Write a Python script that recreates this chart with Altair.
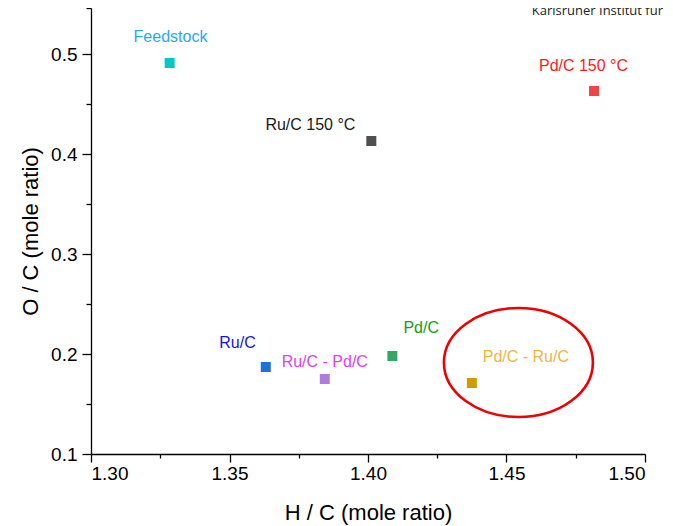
import altair as alt
import pandas as pd

# ---- data ----
names = ["Feedstock", "Pd/C 150 °C", "Ru/C 150 °C", "Ru/C", "Ru/C - Pd/C", "Pd/C", "Pd/C - Ru/C"]
hc = [1.3284, 1.4816, 1.4012, 1.3631, 1.3844, 1.4088, 1.4375]
oc = [0.491, 0.463, 0.413, 0.187, 0.175, 0.198, 0.171]
label_hc = [1.3287, 1.4778, 1.3792, 1.3529, 1.3844, 1.4192, 1.4570]
label_oc = [0.517, 0.488, 0.429, 0.211, 0.192, 0.226, 0.197]
marker_colors = ["#00c8c8", "#f04444", "#505050", "#1f6fdc", "#b07ae0", "#33a864", "#d09a00"]
label_colors = ["#2aa8f2", "#ff1a1a", "#1a1a1a", "#1414e6", "#e040f5", "#14a014", "#f0b444"]

x_ticks = [1.30, 1.35, 1.40, 1.45, 1.50]
x_minor = [1.325, 1.375, 1.425, 1.475]
y_ticks = [0.1, 0.2, 0.3, 0.4, 0.5]
y_minor = [0.15, 0.25, 0.35, 0.45, 0.546]

highlight_hc = [1.4543]
highlight_oc = [0.1915]

df = pd.DataFrame({
    "name": names, "hc": hc, "oc": oc,
    "lhc": label_hc, "loc": label_oc,
    "mcol": marker_colors, "lcol": label_colors,
})
ell = pd.DataFrame({"hc": highlight_hc, "oc": highlight_oc})

FONT = "Liberation Sans"
xscale = alt.Scale(domain=[1.30, 1.50], nice=False, zero=False)
yscale = alt.Scale(domain=[0.1, 0.546], nice=False, zero=False)

main_x_axis = alt.Axis(values=x_ticks, format=".2f", orient="bottom", grid=False,
                       domainColor="black", domainWidth=1.3, tickColor="black", tickWidth=1.3,
                       tickSize=8, labelFont=FONT, labelFontSize=19, labelColor="black",
                       labelPadding=2, titleFont=FONT, titleFontSize=22,
                       titleFontWeight="normal", titleColor="black", titlePadding=19)
main_y_axis = alt.Axis(values=y_ticks, format=".1f", orient="left", grid=False,
                       domainColor="black", domainWidth=1.3, tickColor="black", tickWidth=1.3,
                       tickSize=9, labelFont=FONT, labelFontSize=19, labelColor="black",
                       labelPadding=5, titleFont=FONT, titleFontSize=22,
                       titleFontWeight="normal", titleColor="black", titlePadding=8)

points = alt.Chart(df).mark_point(shape="square", filled=True, size=100, opacity=1).encode(
    x=alt.X("hc:Q", scale=xscale, axis=main_x_axis, title="H / C (mole ratio)"),
    y=alt.Y("oc:Q", scale=yscale, axis=main_y_axis, title="O / C (mole ratio)"),
    color=alt.Color("mcol:N", scale=None),
)

minor_axes = alt.Chart(df).mark_point(opacity=0).encode(
    x=alt.X("hc:Q", scale=xscale, title=None,
            axis=alt.Axis(values=x_minor, orient="bottom", labels=False, domain=False,
                          grid=False, tickColor="black", tickWidth=1.3, tickSize=4)),
    y=alt.Y("oc:Q", scale=yscale, title=None,
            axis=alt.Axis(values=y_minor, orient="left", labels=False, domain=False,
                          grid=False, tickColor="black", tickWidth=1.3, tickSize=5)),
)

labels = alt.Chart(df).mark_text(font=FONT, fontSize=16, align="center", baseline="middle").encode(
    x=alt.X("lhc:Q", scale=xscale, axis=None),
    y=alt.Y("loc:Q", scale=yscale, axis=None),
    text="name:N",
    color=alt.Color("lcol:N", scale=None),
)

ellipse_path = ("M -1 0 C -1 -0.4043 -0.5523 -0.732 0 -0.732 "
                "C 0.5523 -0.732 1 -0.4043 1 0 "
                "C 1 0.4043 0.5523 0.732 0 0.732 "
                "C -0.5523 0.732 -1 0.4043 -1 0 Z")
ellipse = alt.Chart(ell).mark_point(shape=ellipse_path, filled=False, size=22201,
                                    stroke="#ee0000", strokeWidth=2.6, opacity=1).encode(
    x=alt.X("hc:Q", scale=xscale, axis=None),
    y=alt.Y("oc:Q", scale=yscale, axis=None),
)

watermark = alt.Chart(pd.DataFrame({"t": ["Karlsruher Institut für"]})).mark_text(
    font="Open Sans", fontSize=13, color="#222222", align="right", baseline="alphabetic"
).encode(x=alt.value(572), y=alt.value(7), text="t:N")

chart = alt.layer(points, minor_axes, labels, ellipse, watermark).resolve_axis(
    x="independent", y="independent"
).properties(
    width=554, height=446,
    autosize=alt.AutoSizeParams(type="none"),
    padding={"left": 83, "top": 0, "right": 20, "bottom": 72},
).configure_view(stroke=None)

chart.save("out.html", embed_options={"renderer": "svg", "actions": False})
